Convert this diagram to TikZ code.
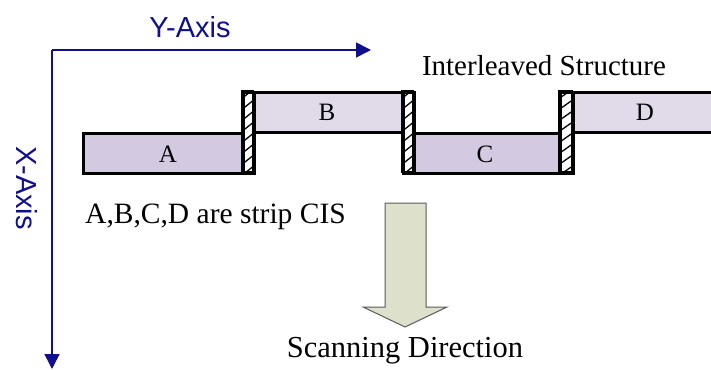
\documentclass[tikz,border=0pt]{standalone}
\usepackage{fontspec}
\setmainfont{Liberation Serif}
\newfontfamily\axisfont{Liberation Sans}
\usetikzlibrary{arrows.meta}

\definecolor{axisblue}{RGB}{16,16,140}
\definecolor{stripdark}{RGB}{211,201,224}
\definecolor{striplight}{RGB}{224,218,233}
\definecolor{arrowfill}{RGB}{221,224,203}
\definecolor{arrowline}{RGB}{90,90,90}

\tikzset{
  cis/.style={draw=black, line width=3pt, inner sep=0pt, anchor=north west},
  cisdark/.style={cis, fill=stripdark},
  cislight/.style={cis, fill=striplight},
  joint/.style={draw=black, line width=2.6pt, fill=white, inner sep=0pt, anchor=north west},
  axis/.style={draw=axisblue, line width=1.6pt, -{Triangle[length=15pt,width=15pt]}},
  axislabel/.style={text=axisblue, font=\axisfont\fontsize{29}{34}\selectfont, inner sep=0pt},
  serif/.style={font=\fontsize{29}{34}\selectfont, inner sep=0pt, anchor=base},
  letter/.style={font=\fontsize{25}{29}\selectfont, inner sep=0pt, anchor=base},
}

\begin{document}
\begin{tikzpicture}[x=1pt, y=-1pt]
  \useasboundingbox (0,0) rectangle (711,369);
  \clip (0,0) rectangle (711,369);

  % coordinate axes
  \coordinate (O) at (52,50);
  \coordinate (yend) at (371,50);
  \coordinate (xend) at (52,369);
  \draw[axis] (O) -- (yend);
  \draw[axis] (O) -- (xend);
  \node[axislabel] (ylab) at (190,27) {Y-Axis};
  \node[axislabel, rotate=-90] (xlab) at (27,188) {X-Axis};

  % strip sensors
  \node[cisdark,  minimum width=161, minimum height=40] (A) at (82,132) {};
  \node[cislight, minimum width=148, minimum height=40] (B) at (253,91) {};
  \node[cisdark,  minimum width=145, minimum height=40] (C) at (413,132) {};
  \node[cislight, minimum width=150, minimum height=40] (D) at (572,91) {};

  % hatched overlap joints
  \foreach \n/\xa/\xb in {J1/242/253, J2/402/413, J3/559/572}{
    \node[joint, minimum width=\xb-\xa, minimum height=81] (\n) at (\xa,91) {};
    \begin{scope}
      \clip (\xa,91) rectangle (\xb,172);
      \foreach \k in {0,...,9}{
        \draw[line width=1.3pt] (\xa-2,100+\k*11) -- (\xb+2,88+\k*11);
      }
    \end{scope}
    \draw[line width=2.6pt] (\xa,91) rectangle (\xb,172);
  }

  % sensor letters
  \node[letter] (la) at (168,162) {A};
  \node[letter] (lb) at (327,120) {B};
  \node[letter] (lc) at (485,162) {C};
  \node[letter] (ld) at (645,120) {D};

  % captions
  \node[serif] (title) at (544,75) {Interleaved Structure};
  \node[serif, anchor=base west, font=\fontsize{29.5}{34}\selectfont] (note) at (85,223) {A,B,C,D are strip CIS};

  % scanning direction arrow
  \draw[fill=arrowfill, draw=arrowline, line width=1pt]
    (385,203) -- (426,203) -- (426,307) -- (447,307) -- (405,327)
    -- (363,307) -- (385,307) -- cycle;
  \node[serif, font=\fontsize{30.5}{35}\selectfont] (scan) at (405,357) {Scanning Direction};
\end{tikzpicture}
\end{document}
